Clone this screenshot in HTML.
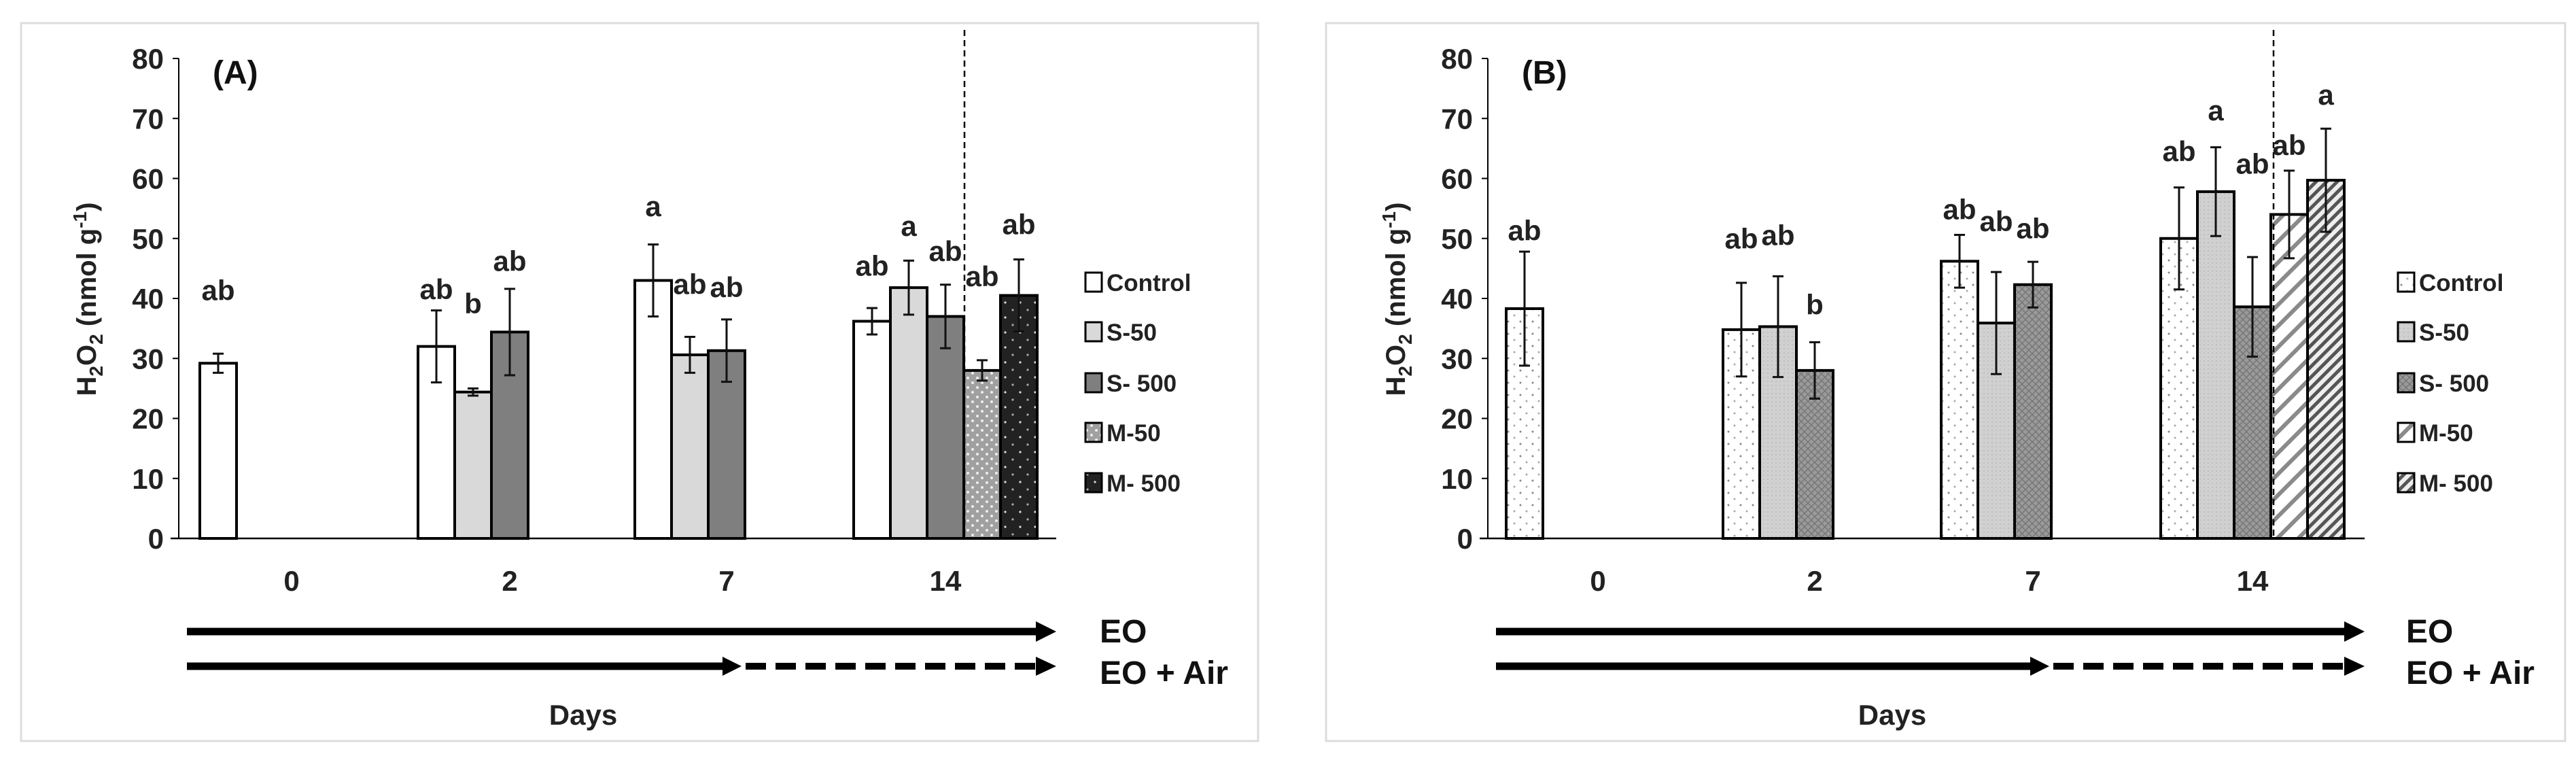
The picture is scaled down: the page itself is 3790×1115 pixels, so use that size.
<!DOCTYPE html>
<html><head><meta charset="utf-8"><style>
html,body{margin:0;padding:0;background:#fff;}
svg{display:block;font-family:"Liberation Sans",Arial,sans-serif;font-weight:bold;}
</style></head><body>
<svg id="chart" width="3790" height="1115" viewBox="0 0 3790 1115" xmlns="http://www.w3.org/2000/svg">
<defs>
<pattern id="pA4" width="14" height="14" patternUnits="userSpaceOnUse"><rect width="14" height="14" fill="#a0a0a0"/><circle cx="3" cy="3" r="2" fill="#eee"/><circle cx="10" cy="10" r="2" fill="#eee"/></pattern>
<pattern id="pA5" width="22" height="22" patternUnits="userSpaceOnUse"><rect width="22" height="22" fill="#222"/><circle cx="5" cy="5" r="1.6" fill="#ddd"/><circle cx="16" cy="16" r="1.6" fill="#aaa"/></pattern>
<pattern id="pB1" width="18" height="18" patternUnits="userSpaceOnUse"><rect width="18" height="18" fill="#fff"/><circle cx="5" cy="5" r="1.5" fill="#888"/><circle cx="14" cy="14" r="1.5" fill="#aaa"/></pattern>
<pattern id="pB2" width="6" height="6" patternUnits="userSpaceOnUse"><rect width="6" height="6" fill="#d0d0d0"/><circle cx="3" cy="3" r="1" fill="#bbb"/></pattern>
<pattern id="pB3" width="10" height="10" patternUnits="userSpaceOnUse"><rect width="10" height="10" fill="#9a9a9a"/><path d="M0 0L10 10M10 0L0 10" stroke="#777" stroke-width="1.5"/></pattern>
<pattern id="pB4" width="22" height="22" patternUnits="userSpaceOnUse" patternTransform="rotate(45)"><rect width="22" height="22" fill="#fff"/><rect width="6" height="22" fill="#8a8a8a"/></pattern>
<pattern id="pB5" width="11" height="11" patternUnits="userSpaceOnUse" patternTransform="rotate(45)"><rect width="11" height="11" fill="#eee"/><rect width="5" height="11" fill="#555"/></pattern>
</defs>
</svg>
<script>
const days = ["0","2","7","14"];
const seriesNames = ["Control","S-50","S- 500","M-50","M- 500"];
const yTicks = [0,10,20,30,40,50,60,70,80];
// Panel A values per series, per day (null = no bar)
const aControl = [29.2,32,43,36.2];
const aS50 = [null,24.4,30.6,41.8];
const aS500 = [null,34.4,31.3,37];
const aM50 = [null,null,null,28];
const aM500 = [null,null,null,40.5];
const aControlErr = [1.6,6,6,2.2];
const aS50Err = [0,0.6,3,4.5];
const aS500Err = [0,7.2,5.2,5.3];
const aM50Err = [0,0,0,1.7];
const aM500Err = [0,0,0,6];
const aLetters = [["ab","ab","a","ab"],[null,"b","ab","a"],[null,"ab","ab","ab"],[null,null,null,"ab"],[null,null,null,"ab"]];
const aLetterY = [[41.3,41.5,55.3,45.4],[null,39.1,42.3,52],[null,46.2,41.8,47.8],[null,null,null,43.6],[null,null,null,52.3]];
// Panel B
const bControl = [38.3,34.8,46.2,50];
const bS50 = [null,35.3,35.9,57.8];
const bS500 = [null,28,42.3,38.6];
const bM50 = [null,null,null,54];
const bM500 = [null,null,null,59.7];
const bControlErr = [9.5,7.8,4.4,8.5];
const bS50Err = [0,8.4,8.5,7.4];
const bS500Err = [0,4.7,3.8,8.3];
const bM50Err = [0,0,0,7.3];
const bM500Err = [0,0,0,8.6];
const bLetters = [["ab","ab","ab","ab"],[null,"ab","ab","a"],[null,"b","ab","ab"],[null,null,null,"ab"],[null,null,null,"a"]];
const bLetterY = [[51.3,49.9,54.8,64.5],[null,50.5,52.8,71.3],[null,38.9,51.6,62.4],[null,null,null,65.5],[null,null,null,73.9]];

const svg = document.getElementById('chart');
const NS = "http://www.w3.org/2000/svg";
function el(tag, attrs, parent){const e=document.createElementNS(NS,tag);for(const k in attrs)e.setAttribute(k,attrs[k]);(parent||svg).appendChild(e);return e;}

function drawPanel(p){
  const g = el('g',{});
  
  
  const y0=792, yTop=86, yScale=(y0-yTop)/80;
  const Y=v=>y0-v*yScale;
  const X=(di,si)=>p.groupX[di]+(si-2)*p.bw;
  const frame=el('rect',{x:p.fx,y:34,width:p.fw,height:1056,fill:'none',stroke:'#dcdcdc','stroke-width':3},g);
  
  
  const ax=el('line',{x1:p.ax,y1:Y(80),x2:p.ax,y2:y0,stroke:'#000','stroke-width':2},g);
  
  
  yTicks.forEach(t=>{
    el('line',{x1:p.ax-9,y1:Y(t),x2:p.ax,y2:Y(t),stroke:'#000','stroke-width':2},g);
    const tx=el('text',{x:p.ax-22,y:Y(t)+15,'text-anchor':'end','font-size':42,fill:'#222'},g);
    tx.textContent=t;
    
    
  });
  const yt=el('text',{x:0,y:0,'text-anchor':'middle','font-size':40,fill:'#222',transform:`translate(${p.ax-122},440) rotate(-90)`},g);
  yt.innerHTML='H<tspan font-size="28" dy="10">2</tspan><tspan dy="-10">O</tspan><tspan font-size="28" dy="10">2</tspan><tspan dy="-10"> (nmol g</tspan><tspan font-size="28" dy="-14">-1</tspan><tspan dy="14">)</tspan>';
  
  
  const pl=el('text',{x:p.ax+50,y:123,'font-size':48,fill:'#111'},g);
  pl.textContent='('+p.id+')';
  
  
  p.series.forEach((vals,si)=>{
    vals.forEach((v,di)=>{
      if(v===null) return;
      const x=X(di,si)-p.bw/2;
      const r=el('rect',{x:x,y:Y(v),width:p.bw,height:y0-Y(v),fill:p.fills[si],stroke:'#000','stroke-width':4},g);
      
      
      const e=p.errs[si][di];
      if(e>0){
        const cx=X(di,si);
        const eb=el('path',{d:`M${cx} ${Y(v-e)}V${Y(v+e)}M${cx-8} ${Y(v-e)}h16M${cx-8} ${Y(v+e)}h16`,stroke:'#111','stroke-width':3,fill:'none'},g);
        
        
      }
      const L=p.letters[si][di];
      if(L){
        const lt=el('text',{x:X(di,si),y:Y(p.letterY[si][di])+14,'text-anchor':'middle','font-size':42,fill:'#222'},g);
        lt.textContent=L;
        
        
      }
    });
  });
  const xa=el('line',{x1:p.ax-12,y1:y0,x2:p.xEnd,y2:y0,stroke:'#000','stroke-width':2.5},g);
  
  
  days.forEach((d,di)=>{
    const t=el('text',{x:p.groupX[di],y:869,'text-anchor':'middle','font-size':42,fill:'#222'},g);
    t.textContent=d;
    
    
  });
  const dl=el('line',{x1:p.dashX,y1:44,x2:p.dashX,y2:y0,stroke:'#000','stroke-width':2.5,'stroke-dasharray':'9 6'},g);
  
  
  seriesNames.forEach((n,si)=>{
    const ly=[415,488,563,636,710][si];
    const sq=el('rect',{x:p.legX,y:ly-14,width:24,height:28,fill:p.fills[si],stroke:'#000','stroke-width':3},g);
    
    
    const lt=el('text',{x:p.legX+31,y:ly+13,'font-size':35,fill:'#222'},g);
    lt.textContent=n;
    
    
  });
  const x0=p.ax+12, xe=p.xEnd;
  const a1=el('g',{},g);
  
  
  el('line',{x1:x0,y1:929,x2:xe-28,y2:929,stroke:'#000','stroke-width':11},a1);
  el('polygon',{points:`${xe-30},914 ${xe},929 ${xe-30},944`,fill:'#000'},a1);
  const a2=el('g',{},g);
  
  
  el('line',{x1:x0,y1:980,x2:p.midTip-26,y2:980,stroke:'#000','stroke-width':11},a2);
  el('polygon',{points:`${p.midTip-28},966 ${p.midTip},980 ${p.midTip-28},994`,fill:'#000'},a2);
  el('line',{x1:p.midTip+6,y1:980,x2:xe-28,y2:980,stroke:'#000','stroke-width':10,'stroke-dasharray':'30 14'},a2);
  el('polygon',{points:`${xe-30},966 ${xe},980 ${xe-30},994`,fill:'#000'},a2);
  const t1=el('text',{x:p.eoX,y:945,'font-size':48,fill:'#111'},g);
  t1.textContent='EO';
  
  
  const t2=el('text',{x:p.eoX,y:1006,'font-size':48,fill:'#111'},g);
  t2.textContent='EO + Air';
  
  
  const dt=el('text',{x:p.daysX,y:1066,'text-anchor':'middle','font-size':42,fill:'#222'},g);
  dt.textContent='Days';
  
  
}

drawPanel({id:'A',fx:31,fw:1820,ax:263,xEnd:1554,bw:54,groupX:[429,750,1069,1391],dashX:1419,legX:1597,midTip:1091,eoX:1618,daysX:858,
  series:[aControl,aS50,aS500,aM50,aM500],errs:[aControlErr,aS50Err,aS500Err,aM50Err,aM500Err],letters:aLetters,letterY:aLetterY,
  fills:['#fff','#d9d9d9','#7f7f7f','url(#pA4)','url(#pA5)']});
drawPanel({id:'B',fx:1951,fw:1823,ax:2189,xEnd:3479,bw:54,groupX:[2351,2670,2991,3314],dashX:3345,legX:3528,midTip:3015,eoX:3540,daysX:2784,
  series:[bControl,bS50,bS500,bM50,bM500],errs:[bControlErr,bS50Err,bS500Err,bM50Err,bM500Err],letters:bLetters,letterY:bLetterY,
  fills:['url(#pB1)','url(#pB2)','url(#pB3)','url(#pB4)','url(#pB5)']});
</script>
</body></html>
